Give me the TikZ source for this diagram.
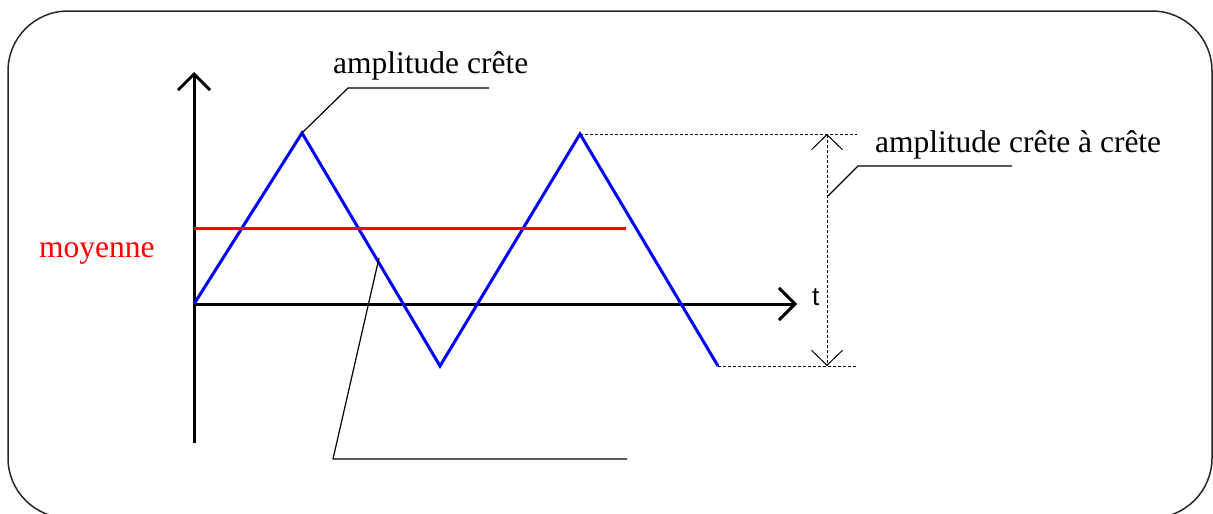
\documentclass[tikz,border=0pt]{standalone}
\usepackage{fontspec}
\setmainfont{Liberation Serif}
\newfontfamily\sansf{Liberation Sans}
\usetikzlibrary{arrows.meta}
\begin{document}
\begin{tikzpicture}[x=1pt,y=-1pt,
 axis/.style={line width=3pt,-{Straight Barb[length=16pt,width=32pt]}},
 wave/.style={blue,line width=3pt,line join=miter},
 avg/.style={red,line width=3pt},
 leader/.style={line width=1.2pt},
 dimline/.style={line width=1pt,dash pattern=on 3pt off 2pt,{Straight Barb[length=15pt,width=31pt]}-{Straight Barb[length=15pt,width=31pt]}},
 guide/.style={line width=1pt,dash pattern=on 3pt off 2pt},
 lbl/.style={font=\fontsize{31.5}{36}\selectfont,inner sep=0pt,anchor=base west}]
\useasboundingbox (0,0) rectangle (1213,514);
\draw[line width=1.5pt, black!85, rounded corners=60pt] (8,11) rectangle (1212,518);
% axes
\coordinate (O) at (194,304);
\coordinate (ybot) at (194,443);
\coordinate (ytop) at (194,72);
\coordinate (xend) at (797,304);
\draw[axis] (ybot) -- (ytop);
\draw[axis] (O) -- (xend);
\node[font=\sansf\fontsize{26}{30}\selectfont,inner sep=0pt,anchor=base west] (tl) at (812,305) {t};
% wave
\coordinate (p0) at (194,304);
\coordinate (p1) at (302,133);
\coordinate (p2) at (440,366);
\coordinate (p3) at (580,134);
\coordinate (p4) at (718,366);
\draw[wave] (p0) -- (p1) -- (p2) -- (p3) -- (p4);
% mean
\coordinate (m0) at (194,228);
\coordinate (m1) at (626,228);
\draw[avg] (m0) -- (m1);
\node[lbl,red] (moy) at (39,257) {moyenne};
% amplitude crete
\coordinate (a1) at (348,88);
\coordinate (a2) at (489,88);
\draw[leader] (p1) -- (a1) -- (a2);
\node[lbl] (lc) at (333,73) {amplitude crête};
% peak to peak
\coordinate (g1) at (857,134);
\coordinate (g2) at (857,366);
\coordinate (d1) at (827,134);
\coordinate (d2) at (827,366);
\draw[guide] (p3) -- (g1);
\draw[guide] (p4) -- (g2);
\draw[dimline] (d1) -- (d2);
\coordinate (c0) at (828,196);
\coordinate (c1) at (858,166);
\coordinate (c2) at (1012,166);
\draw[leader] (c0) -- (c1) -- (c2);
\node[lbl] (lcc) at (875,152) {amplitude crête à crête};
% third leader
\coordinate (e0) at (379,258);
\coordinate (e1) at (333,459);
\coordinate (e2) at (627,459);
\draw[leader] (e0) -- (e1) -- (e2);
\end{tikzpicture}
\end{document}
